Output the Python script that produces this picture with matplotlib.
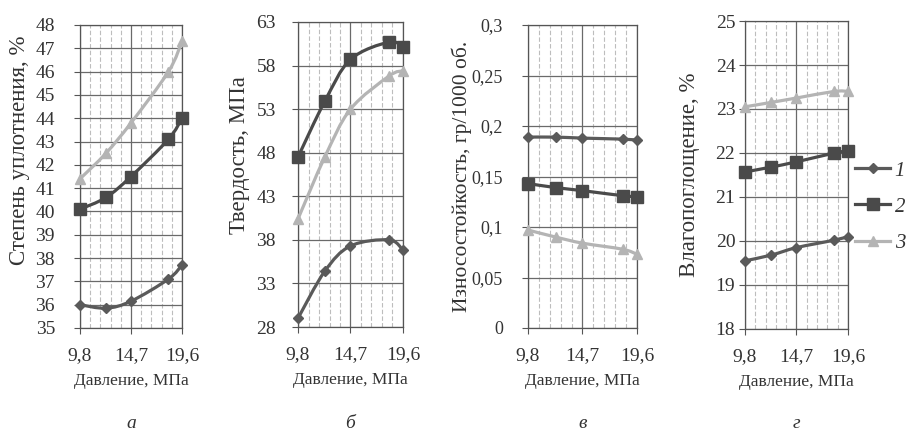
import matplotlib
matplotlib.use("Agg")
import numpy as np
import matplotlib.pyplot as plt
from matplotlib.path import Path
from matplotlib.patches import PathPatch
from matplotlib.ticker import MultipleLocator, FuncFormatter
from matplotlib.lines import Line2D

plt.rcParams['font.family'] = 'serif'
plt.rcParams['font.serif'] = ['Liberation Serif', 'DejaVu Serif']

# давление, МПа
pressure = [9.8, 12.3, 14.7, 18.3, 19.6]

# а - степень уплотнения, %
a_s1 = [36.0, 35.85, 36.15, 37.1, 37.7]
a_s2 = [40.1, 40.6, 41.5, 43.1, 44.0]
a_s3 = [41.4, 42.5, 43.8, 46.0, 47.3]

# б - твердость, МПа
b_s1 = [29.0, 34.4, 37.3, 38.0, 36.8]
b_s2 = [47.5, 53.9, 58.7, 60.7, 60.1]
b_s3 = [40.4, 47.5, 53.0, 56.8, 57.4]

# в - износостойкость, гр/1000 об.
v_s1 = [0.189, 0.189, 0.188, 0.187, 0.186]
v_s2 = [0.143, 0.139, 0.136, 0.131, 0.130]
v_s3 = [0.097, 0.090, 0.084, 0.078, 0.073]

# г - влагопоглощение, %
g_s1 = [19.55, 19.68, 19.85, 20.02, 20.1]
g_s2 = [21.57, 21.68, 21.8, 22.0, 22.05]
g_s3 = [23.05, 23.15, 23.25, 23.4, 23.4]

xticks = [9.8, 14.7, 19.6]
series_labels = ['1', '2', '3']

ylabels = ['Степень уплотнения, %', 'Твердость, МПа',
           'Износостойкость, гр/1000 об.', 'Влагопоглощение, %']
letters = ['а', 'б', 'в', 'г']

# стиль серий: цвет, маркер, размер маркера
styles = [('#5a5a5a', 'D', 5.5), ('#4a4a4a', 's', 9), ('#b4b4b4', '^', 7)]


def smooth_path(x, y):
    # сглаженная линия как в Excel: кривые Безье через точки
    verts = [(x[0], y[0])]
    codes = [Path.MOVETO]
    n = len(x)
    for i in range(n - 1):
        x0, y0 = (x[i - 1], y[i - 1]) if i > 0 else (x[i], y[i])
        x3, y3 = (x[i + 2], y[i + 2]) if i + 2 < n else (x[i + 1], y[i + 1])
        c1 = (x[i] + (x[i + 1] - x0) / 6, y[i] + (y[i + 1] - y0) / 6)
        c2 = (x[i + 1] - (x3 - x[i]) / 6, y[i + 1] - (y3 - y[i]) / 6)
        verts += [c1, c2, (x[i + 1], y[i + 1])]
        codes += [Path.CURVE4] * 3
    return Path(verts, codes)


def comma(v, nd):
    if nd == 0:
        return '%d' % round(v)
    s = ('%.' + str(nd) + 'f') % v
    s = s.rstrip('0').rstrip('.')
    return s.replace('.', ',')


fig = plt.figure(figsize=(9.12, 4.37), dpi=100)
W, H = 912, 437
boxes = [(80, 182, 25, 328), (298, 403, 22, 327), (528, 637, 25, 328), (745, 848, 21, 329)]
ylims = [(35, 48, 1, 0), (28, 63, 5, 0), (0, 0.3, 0.05, 2), (18, 25, 1, 0)]
ypads = [14, 12, 14, 3]
ysizes = [14, 14, 13, 14]
ylab_pos = [(20, 150), (240, 155), (462, 176), (690, 175)]
ylab_sizes = [16.5, 16.5, 15.5, 16.5]
data = [(a_s1, a_s2, a_s3), (b_s1, b_s2, b_s3), (v_s1, v_s2, v_s3), (g_s1, g_s2, g_s3)]

for k in range(4):
    l, r, t, b = boxes[k]
    ax = fig.add_axes([l / W, (H - b) / H, (r - l) / W, (b - t) / H])
    lo, hi, step, nd = ylims[k]
    ax.set_xlim(9.8, 19.6)
    ax.set_ylim(lo, hi)
    ax.set_xticks(xticks)
    ax.set_yticks(np.arange(lo, hi + step / 2, step))
    ax.xaxis.set_major_formatter(FuncFormatter(lambda v, p: comma(v, 1)))
    ax.xaxis.set_minor_locator(MultipleLocator(0.98))
    ax.yaxis.set_major_formatter(FuncFormatter(lambda v, p, nd=nd: comma(v, nd)))
    ax.grid(True, which='major', color='#6a6a6a', lw=0.9)
    ax.grid(True, which='minor', axis='x', color='#bdbdbd', lw=0.8, ls=(0, (4, 2)))
    ax.set_axisbelow(True)
    for sp in ax.spines.values():
        sp.set_color('#555555')
        sp.set_linewidth(0.9)
    ax.tick_params(which='major', direction='out', length=4, color='#555555',
                   labelsize=14, labelcolor='#333333')
    ax.tick_params(which='minor', length=0)
    ax.tick_params(axis='x', pad=10)
    ax.tick_params(axis='y', pad=ypads[k], labelsize=ysizes[k])
    ax.set_xlabel('Давление, МПа', fontsize=12.5, color='#333333', labelpad=6)

    for ys, (col, mk, ms) in zip(data[k], styles):
        ax.add_patch(PathPatch(smooth_path(pressure, ys), fill=False,
                               edgecolor=col, lw=2.3, clip_on=False, zorder=3))
        ax.plot(pressure, ys, ls='none', marker=mk, ms=ms, color=col,
                mec=col, clip_on=False, zorder=4)

    lx, ly = ylab_pos[k]
    fig.text(lx / W, 1 - ly / H, ylabels[k], rotation=90, ha='center', va='center',
             fontsize=ylab_sizes[k], color='#333333')
    fig.text((l + r) / 2 / W, 1 - 423 / H, letters[k], ha='center', va='center',
             fontsize=14, style='italic', color='#333333')

handles = [Line2D([], [], color=col, marker=mk, ms=ms, lw=2.3)
           for col, mk, ms in styles]
leg = fig.legend(handles, series_labels, loc='center left',
                 bbox_to_anchor=(855 / W, 1 - 207 / H), frameon=False,
                 handlelength=1.7, handletextpad=0.2, labelspacing=0.8,
                 borderaxespad=0, borderpad=0,
                 prop={'size': 15, 'style': 'italic'})
for txt in leg.get_texts():
    txt.set_color('#333333')

fig.savefig('out.png', dpi=100, facecolor='white')
